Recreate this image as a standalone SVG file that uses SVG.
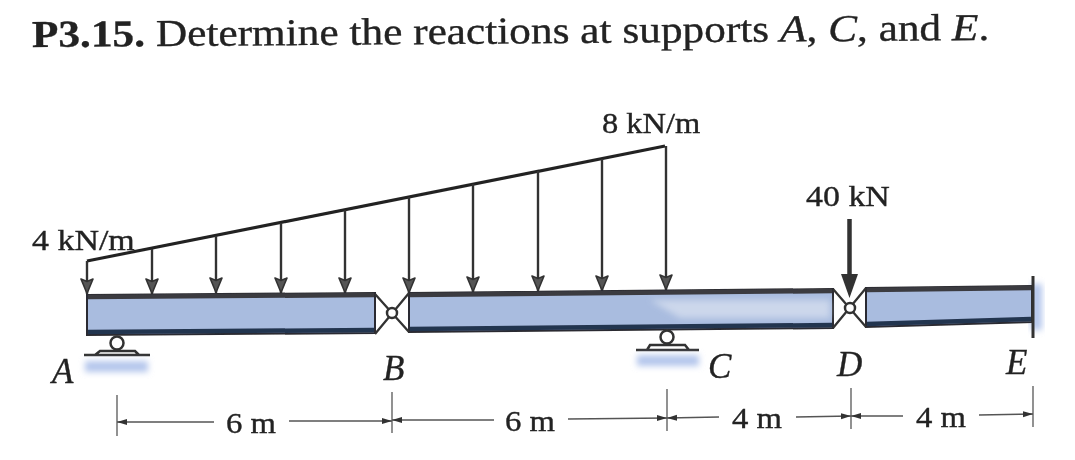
<svg xmlns="http://www.w3.org/2000/svg" width="1075" height="460" viewBox="0 0 1075 460">
<style>
text{font-family:"Liberation Serif","Times New Roman",serif;fill:#222;stroke:#222;stroke-width:.35}
.t{font-size:38px}.l{font-size:29px}.i{font-size:35px;font-style:italic}
.beam{fill:#a9bcdf;stroke:#2b2b30;stroke-width:2}
.edge{fill:none;stroke:#3a3a40;stroke-width:4.5}
.low{fill:none;stroke:#24344f;stroke-width:4.5}
.load{stroke:#333;stroke-width:2.4;fill:none;marker-end:url(#ah)}
.dim{stroke:#555;stroke-width:1.6;fill:none}
.tick{stroke:#777;stroke-width:1.6;fill:none}
.hinge{fill:#fff;stroke:#333;stroke-width:2.5}
.sup{fill:none;stroke:#333;stroke-width:2.5}
.ground{fill:#b4c6ec;filter:url(#b)}
.x{stroke:#333;stroke-width:2.3;fill:none}
</style>
<defs>
<marker id="ah" markerUnits="userSpaceOnUse" markerWidth="16" markerHeight="14" refX="16" refY="7" orient="auto" viewBox="0 0 16 14"><path d="M1 1L15.5 7L1 13L3.5 7Z" fill="#555" stroke="#333" stroke-width="1.6" stroke-linejoin="round"/></marker>
<marker id="dh" markerUnits="userSpaceOnUse" markerWidth="10" markerHeight="8" refX="10" refY="4" orient="auto-start-reverse"><path d="M0 1L10 4L0 7Z" fill="#333"/></marker>
<filter id="b" x="-20%" y="-60%" width="140%" height="220%"><feGaussianBlur stdDeviation="3"/></filter>
<filter id="soft" filterUnits="userSpaceOnUse" x="0" y="0" width="1075" height="460"><feGaussianBlur stdDeviation="0.6"/></filter>
</defs>
<g filter="url(#soft)">
<g id="title">
<text class="t" transform="translate(32 47) rotate(-0.42) scale(1.14 1)"><tspan font-weight="bold">P3.15.</tspan> Determine the reactions at supports <tspan font-style="italic">A</tspan>, <tspan font-style="italic">C</tspan>, and <tspan font-style="italic">E</tspan>.</text>
</g>
<g id="connectors">
<path d="M87 261L665 146" fill="none" stroke="#222" stroke-width="3.2"/>
<g>
<line class="load" x1="87" y1="261" x2="87" y2="294"/>
<line class="load" x1="152" y1="249" x2="152" y2="294"/>
<line class="load" x1="216" y1="236" x2="216" y2="293"/>
<line class="load" x1="281" y1="223" x2="281" y2="293"/>
<line class="load" x1="345" y1="210" x2="345" y2="293"/>
<line class="load" x1="409" y1="197" x2="409" y2="293"/>
<line class="load" x1="473" y1="184" x2="473" y2="292"/>
<line class="load" x1="538" y1="171" x2="538" y2="291"/>
<line class="load" x1="602" y1="159" x2="602" y2="291"/>
<line class="load" x1="666" y1="146" x2="666" y2="290"/>
</g>
<g>
<line class="tick" x1="117" y1="395" x2="117" y2="436"/>
<line class="tick" x1="392" y1="392" x2="392" y2="433"/>
<line class="tick" x1="667" y1="389" x2="667" y2="431"/>
<line class="tick" x1="851" y1="388" x2="851" y2="429"/>
<line class="tick" x1="1033" y1="386" x2="1033" y2="427"/>
<line class="dim" x1="117" y1="422" x2="214" y2="422" marker-start="url(#dh)"/>
<line class="dim" x1="289" y1="421" x2="392" y2="421" marker-end="url(#dh)"/>
<line class="dim" x1="392" y1="420" x2="494" y2="420" marker-start="url(#dh)"/>
<line class="dim" x1="568" y1="419" x2="667" y2="418" marker-end="url(#dh)"/>
<line class="dim" x1="667" y1="418" x2="719" y2="417" marker-start="url(#dh)"/>
<line class="dim" x1="796" y1="417" x2="851" y2="416" marker-end="url(#dh)"/>
<line class="dim" x1="851" y1="416" x2="903" y2="416" marker-start="url(#dh)"/>
<line class="dim" x1="979" y1="415" x2="1033" y2="414" marker-end="url(#dh)"/>
</g>
</g>
<g id="glow-E"><rect class="ground" x="1031" y="284" width="11" height="46"/></g>
<g id="beam-AB">
<path class="beam" d="M87 295L375 293V333L87 335Z"/>
<path class="low" d="M88 332L374 330"/>
<path class="edge" d="M88 297L374 295"/>
</g>
<g id="beam-BD">
<path class="beam" d="M409 293L833 289V328L409 332Z"/>
<path d="M650 300H830V318H680Z" fill="#dbe3f1" opacity=".7" filter="url(#b)"/>
<path class="low" d="M410 329L832 325"/>
<path class="edge" d="M410 295L832 291"/>
</g>
<g id="beam-DE">
<path class="beam" d="M866 288L1032 286V322L866 327Z"/>
<path class="low" d="M867 324L1031 319"/>
<path class="edge" d="M867 290L1031 288"/>
<path d="M1033 276V338" stroke="#333" stroke-width="3"/>
</g>
<g id="hinge-B">
<path class="x" d="M375 294L409 332M375 334L409 293"/>
<circle class="hinge" cx="392" cy="313" r="5"/>
</g>
<g id="hinge-D">
<path class="x" d="M833 289L866 327M833 328L866 288"/>
<circle class="hinge" cx="850" cy="308" r="5"/>
</g>
<g id="force-D">
<path d="M849.5 219V274" stroke="#333" stroke-width="4.5" fill="none"/>
<path d="M841 274H858L849.5 298Z" fill="#333"/>
</g>
<g id="support-A">
<circle class="hinge" cx="117" cy="343" r="6.5"/>
<path class="sup" d="M84 355H150M95 355L100 351H135L139 355"/>
<rect class="ground" x="85" y="361" width="63" height="11"/>
</g>
<g id="support-C">
<circle class="hinge" cx="667" cy="337" r="6.5"/>
<path class="sup" d="M636 350H699M647 350L650 345H685L689 350"/>
<rect class="ground" x="637" y="355" width="62" height="11"/>
</g>
<g id="labels">
<text class="l" transform="translate(32 250) scale(1.17 1)">4 kN/m</text>
<text class="l" transform="translate(602 133) scale(1.12 1)">8 kN/m</text>
<text class="l" transform="translate(806 206) scale(1.17 1)">40 kN</text>
<text class="i" x="52" y="383">A</text>
<text class="i" x="383" y="380">B</text>
<text class="i" x="708" y="378">C</text>
<text class="i" x="837" y="376">D</text>
<text class="i" x="1006" y="374">E</text>
<text class="l" transform="translate(226 433) scale(1.13 1)">6 m</text>
<text class="l" transform="translate(505 431) scale(1.13 1)">6 m</text>
<text class="l" transform="translate(732 428) scale(1.13 1)">4 m</text>
<text class="l" transform="translate(916 427) scale(1.13 1)">4 m</text>
</g>
</g>
</svg>
